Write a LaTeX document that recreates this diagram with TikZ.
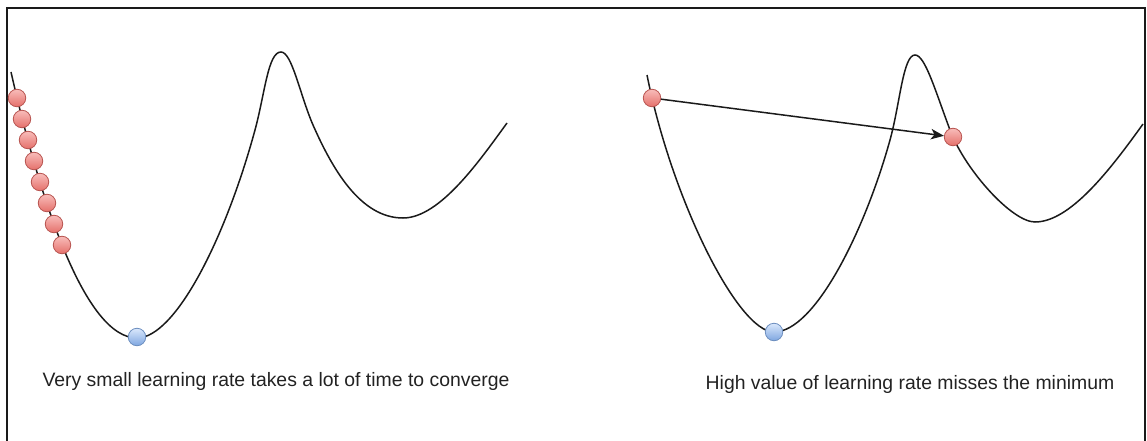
\documentclass[tikz,border=0pt]{standalone}
\usepackage{fontspec}
\setmainfont{Liberation Sans}
\usetikzlibrary{arrows.meta,positioning}
\definecolor{ink}{HTML}{1A1A1A}
\definecolor{txt}{HTML}{222222}
\definecolor{redtop}{HTML}{F8BDBA}
\definecolor{redbot}{HTML}{E5706B}
\definecolor{redline}{HTML}{B85450}
\definecolor{bluetop}{HTML}{DAE8FC}
\definecolor{bluebot}{HTML}{7EA6E0}
\definecolor{blueline}{HTML}{6C8EBF}

\begin{document}
\begin{tikzpicture}[x=1pt,y=-1pt,
  curve/.style={ink,line width=1.5pt},
  redball/.style={circle,draw=redline,line width=0.8pt,top color=redtop,bottom color=redbot,minimum size=17.5pt,inner sep=0pt},
  blueball/.style={circle,draw=blueline,line width=0.8pt,top color=bluetop,bottom color=bluebot,minimum size=17.5pt,inner sep=0pt},
  caption/.style={font=\fontsize{19.4}{22}\selectfont,text=txt},
  jump/.style={-{Stealth[length=13pt,width=10.5pt,inset=3.5pt]},ink,line width=1.5pt}
]
  \useasboundingbox (0,0) rectangle (1147,441);
  \draw[ink,line width=2pt] (6.5,450) -- (6.5,8.5) -- (1145,8.5) -- (1145,450);
  \draw[curve] (11,72) .. controls (40,200) and (85,338) .. (137,338)
    .. controls (175,338) and (225,240) .. (255,130)
    .. controls (265,93) and (268,52) .. (281,52)
    .. controls (292,52) and (300,95) .. (313,125)
    .. controls (332,168) and (360,218) .. (403,218)
    .. controls (440,218) and (480,160) .. (507,123);
  \draw[curve] (647,75) .. controls (672,200) and (738,332) .. (774,332)
    .. controls (815,332) and (865,230) .. (890,140)
    .. controls (900,104) and (903,55) .. (915,55)
    .. controls (925,55) and (935,90) .. (950,130)
    .. controls (965,170) and (1012,222) .. (1035,222)
    .. controls (1070,222) and (1110,170) .. (1143,124);
  \node[redball] (s1) at (17,98) {};
  \node[redball] (s2) at (22,119) {};
  \node[redball] (s3) at (28,140) {};
  \node[redball] (s4) at (34,161) {};
  \node[redball] (s5) at (40,182) {};
  \node[redball] (s6) at (47,203) {};
  \node[redball] (s7) at (54,224) {};
  \node[redball] (s8) at (62,245) {};
  \node[blueball] (lmin) at (137,337) {};
  \node[redball] (ja) at (652,98) {};
  \node[redball] (jb) at (953,137) {};
  \node[blueball] (rmin) at (774,332) {};
  \draw[jump] (ja) -- (jb);
  \node[caption] (slow) at (276,381) {Very small learning rate takes a lot of time to converge};
  \node[caption] (fast) at (910,384) {High value of learning rate misses the minimum};
\end{tikzpicture}
\end{document}
